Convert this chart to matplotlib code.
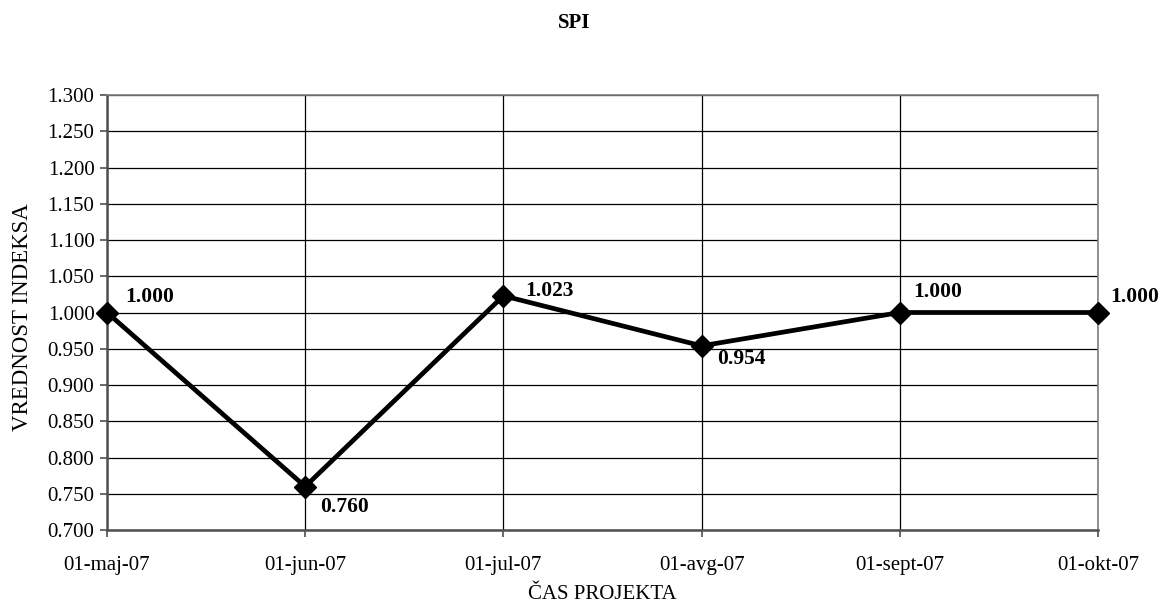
import matplotlib
matplotlib.use("Agg")
import matplotlib.pyplot as plt

plt.rcParams['font.family'] = ['Liberation Serif', 'DejaVu Serif']

dates = ["01-maj-07", "01-jun-07", "01-jul-07", "01-avg-07", "01-sept-07", "01-okt-07"]
spi = [1.000, 0.760, 1.023, 0.954, 1.000, 1.000]
label_offsets = [(13, 11), (11, -14.5), (16, 3.5), (11, -9.5), (9.5, 14.5), (9, 11.5)]
yticks = [0.700, 0.750, 0.800, 0.850, 0.900, 0.950, 1.000, 1.050,
          1.100, 1.150, 1.200, 1.250, 1.300]

FS = 15

fig = plt.figure(figsize=(11.61, 6.09), dpi=100)
ax = fig.add_axes([107/1161, 1 - 530/609, (1098 - 107)/1161, (530 - 95)/609])

x = list(range(len(dates)))
ax.plot(x, spi, color='black', linewidth=3.4, marker='D', markersize=11,
        zorder=3, clip_on=False)

for xi, v, (dx, dy) in zip(x, spi, label_offsets):
    ax.annotate(f"{v:.3f}", (xi, v), xytext=(dx, dy), textcoords='offset points',
                ha='left', va='center', fontsize=15.5, fontweight='bold')

ax.set_xlim(0, len(dates) - 1)
ax.set_ylim(0.7, 1.3)
ax.set_xticks(x)
ax.set_xticklabels(dates, fontsize=FS)
ax.set_yticks(yticks)
ax.set_yticklabels([f"{t:.3f}" for t in yticks], fontsize=FS)
ax.grid(True, color='black', linewidth=0.9)
ax.set_axisbelow(True)

for side in ['top', 'right']:
    ax.spines[side].set_color('#808080')
    ax.spines[side].set_linewidth(1.2)
ax.spines['left'].set_color('#505050')
ax.spines['left'].set_linewidth(1.8)
ax.spines['bottom'].set_color('#505050')
ax.spines['bottom'].set_linewidth(1.8)
ax.tick_params(axis='both', direction='out', length=5, width=1.2, color='#505050')
ax.tick_params(axis='x', pad=14)
ax.tick_params(axis='y', pad=4)

ax.set_xlabel("ČAS PROJEKTA", fontsize=FS, labelpad=7)
fig.text(23/1161, 1 - 317/609, "VREDNOST INDEKSA", rotation=90,
         ha='center', va='center', fontsize=16.5)
fig.text(574/1161, 1 - 23/609, "SPI", ha='center', va='center',
         fontsize=15, fontweight='bold')

fig.savefig("out.png", dpi=100)
